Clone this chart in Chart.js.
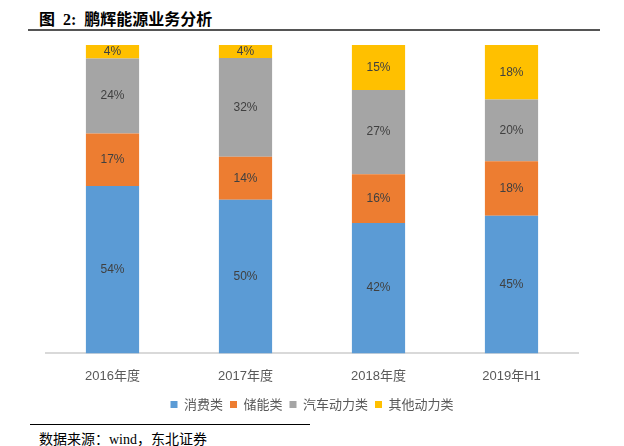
<!DOCTYPE html>
<html>
<head>
<meta charset="utf-8">
<script src="https://cdn.jsdelivr.net/npm/chart.js@4"></script>
<style>
  html, body { margin: 0; padding: 0; background: #fff; }
  body { width: 624px; height: 446px; position: relative; overflow: hidden; }
  #title { position: absolute; left: 39px; top: 6px; font-family: "Liberation Serif", "Noto Sans CJK SC", serif; font-weight: bold; font-size: 16px; color: #000; white-space: nowrap; }
  #tline { position: absolute; left: 28px; top: 29px; width: 572px; height: 2px; background: #555; }
  #bline { position: absolute; left: 30px; top: 424px; width: 280px; height: 1px; background: #000; }
  #source { position: absolute; left: 39px; top: 428px; font-family: "Liberation Serif", "Noto Sans CJK SC", serif; font-size: 14px; color: #000; white-space: nowrap; }
  #wrap { position: absolute; left: 0; top: 34px; width: 624px; height: 390px; }
</style>
</head>
<body>
<div id="title">图&nbsp;&nbsp;2:&nbsp;&nbsp;鹏辉能源业务分析</div>
<div id="tline"></div>
<div id="wrap"><canvas id="c"></canvas></div>
<div id="bline"></div>
<div id="source">数据来源：wind，东北证券</div>
<script>
const categories = ["2016年度", "2017年度", "2018年度", "2019年H1"];
const seriesNames = ["消费类", "储能类", "汽车动力类", "其他动力类"];
const consumer = [54.3, 49.8, 42.3, 44.6];
const storage = [17.0, 14.0, 15.8, 17.7];
const auto = [24.3, 32.0, 27.3, 20.0];
const other = [4.4, 4.2, 14.6, 17.7];
const colors = ["#5B9BD5", "#ED7D31", "#A5A5A5", "#FFC000"];

const labelPlugin = {
  id: 'segLabels',
  afterDatasetsDraw(chart) {
    const ctx = chart.ctx;
    ctx.save();
    ctx.font = '12px "Liberation Sans", Arial, sans-serif';
    ctx.fillStyle = '#404040';
    ctx.textAlign = 'center';
    ctx.textBaseline = 'middle';
    chart.data.datasets.forEach((ds, i) => {
      const meta = chart.getDatasetMeta(i);
      meta.data.forEach((el, j) => {
        const v = ds.data[j];
        ctx.fillText(Math.round(v) + '%', el.x, (el.y + el.base) / 2);
      });
    });
    ctx.restore();
  }
};

new Chart(document.getElementById('c'), {
  type: 'bar',
  data: {
    labels: categories,
    datasets: [consumer, storage, auto, other].map((d, i) => ({
      label: seriesNames[i],
      data: d,
      backgroundColor: colors[i],
      borderWidth: 0,
      barPercentage: 0.4,
      categoryPercentage: 1.0
    }))
  },
  options: {
    responsive: true,
    maintainAspectRatio: false,
    animation: false,
    layout: { padding: { left: 46, right: 46, top: 11, bottom: 3 } },
    plugins: {
      tooltip: { enabled: false },
      legend: {
        position: 'bottom',
        labels: {
          boxWidth: 7,
          boxHeight: 7,
          padding: 7,
          color: '#595959',
          font: { size: 13, family: '"Noto Sans CJK SC", sans-serif' }
        }
      }
    },
    scales: {
      x: {
        stacked: true,
        grid: { display: false },
        border: { color: '#d9d9d9', width: 2 },
        ticks: { color: '#595959', padding: 7, font: { size: 13, family: '"Liberation Sans", "Noto Sans CJK SC", sans-serif' } }
      },
      y: {
        stacked: true,
        display: false,
        min: 0,
        max: 100
      }
    }
  },
  plugins: [labelPlugin]
});
</script>
</body>
</html>
